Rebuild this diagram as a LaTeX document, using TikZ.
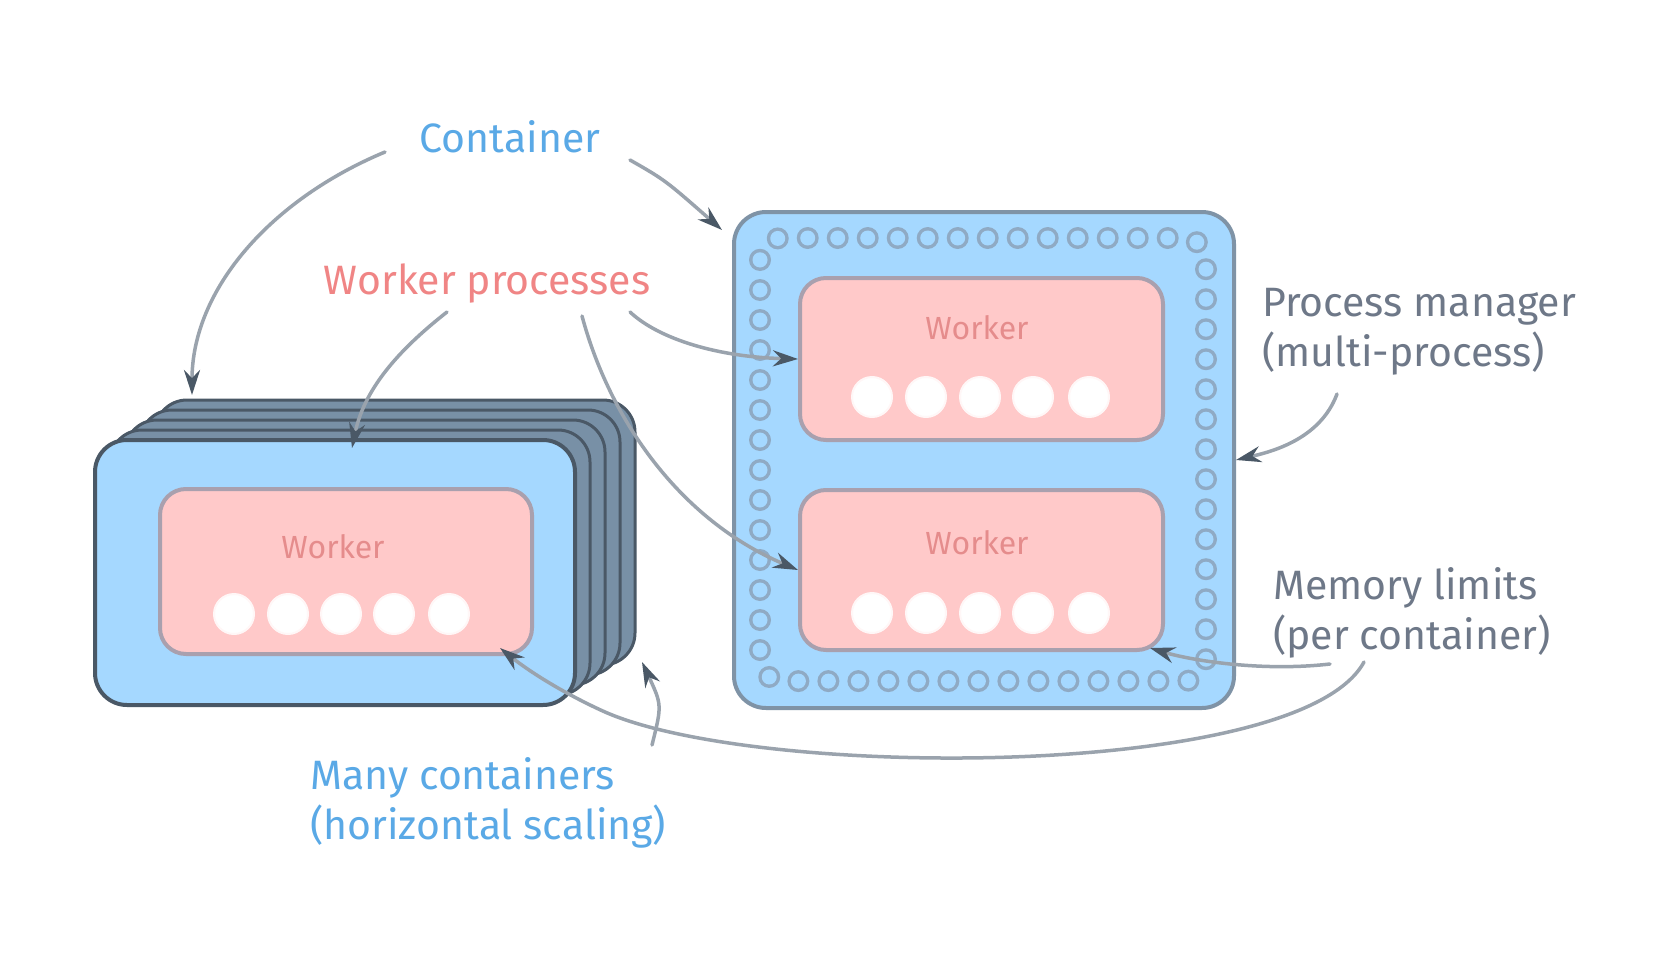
\documentclass[tikz,border=0pt]{standalone}
\usepackage{fontspec}
\setmainfont{Fira Sans}
\usetikzlibrary{arrows.meta}
\definecolor{boxblue}{HTML}{A5D8FF}
\definecolor{boxpink}{HTML}{FFC9C9}
\definecolor{inkdark}{HTML}{4A5866}
\definecolor{stackfill}{HTML}{7890A6}
\definecolor{ringdark}{HTML}{8FAAC4}
\definecolor{pinkline}{HTML}{A9A0AE}
\definecolor{blueline}{HTML}{7F93A6}
\definecolor{linegrey}{HTML}{9AA3AD}
\definecolor{txtblue}{HTML}{5AA9E6}
\definecolor{txtpink}{HTML}{F08585}
\definecolor{txtgrey}{HTML}{6E7888}
\definecolor{titlepink}{HTML}{E58C8C}
\tikzset{
  bluebox/.style={draw=blueline, line width=4pt, fill=boxblue, rounded corners=32pt, inner sep=0pt},
  stackbox/.style={draw=inkdark, line width=3pt, fill=stackfill, rounded corners=32pt, inner sep=0pt},
  pinkbox/.style={draw=pinkline, line width=4pt, fill=boxpink, rounded corners=26pt, inner sep=0pt, minimum width=363pt},
  whitedot/.style={circle, fill=white, draw=white!85!boxpink, line width=2pt, minimum size=40pt, inner sep=0pt},
  boxtitle/.style={font=\fontsize{32}{36}\selectfont, text=titlepink, inner sep=0pt},
  lbl/.style={font=\fontsize{41}{50}\selectfont, inner sep=0pt, align=left},
  conn/.style={draw=linegrey, line width=3.5pt, line cap=round,
    -{Stealth[length=25pt, width=16pt, color=inkdark, fill=inkdark]}},
}
\begin{document}
\begin{tikzpicture}[x=1pt,y=-1pt]
\useasboundingbox[fill=white] (0,0) rectangle (1668,966);

% ---------- left: stack of containers ----------
\foreach \k in {4,3,2,1}{
  \node[stackbox, minimum width=480pt, minimum height=265pt] (stack\k) at ({335+15*\k},{572.5-10*\k}) {};
}
\node[bluebox, draw=inkdark, minimum width=480pt, minimum height=265pt] (leftbox) at (335,572.5) {};
\node[pinkbox, minimum width=372pt, minimum height=165pt] (leftproc) at (346,571.5) {};
\node[boxtitle] (lefttitle) at (333,547) {Worker};
\foreach \x [count=\i] in {234,288,341,394,449}{
  \node[whitedot] (ld\i) at (\x,614) {};
}
\coordinate (leftcorner) at (500,648);

% ---------- right: one container with two processes ----------
\node[bluebox, minimum width=500pt, minimum height=496pt] (rightbox) at (984,460) {};
\draw[ringdark, line width=22pt, line cap=round, dash pattern=on 0pt off 30pt, rounded corners=22pt]
  (760,238) rectangle (1206,681.1);
\draw[boxblue, line width=15pt, line cap=round, dash pattern=on 0pt off 30pt, rounded corners=22pt]
  (760,238) rectangle (1206,681.1);
\node[pinkbox, minimum height=162pt] (upproc) at (981.5,359) {};
\node[pinkbox, minimum height=160pt] (lowproc) at (981.5,570) {};
\node[boxtitle] (uptitle) at (977,328) {Worker};
\node[boxtitle] (lowtitle) at (977,543) {Worker};
\foreach \x [count=\i] in {872,926,980,1033,1089}{
  \node[whitedot] (ud\i) at (\x,397) {};
  \node[whitedot] (wd\i) at (\x,613) {};
}
\coordinate (rightcorner) at (1150,648);

% ---------- labels ----------
\node[lbl, text=txtblue] (container) at (510,137) {Container};
\node[lbl, text=txtpink] (workers) at (487,283) {Worker processes};
\node[lbl, text=txtgrey, anchor=north west] (manager) at (1262,288) {Process manager\\(multi-process)};
\node[lbl, text=txtgrey, anchor=north west] (memory) at (1273,567) {Memory limits\\(per container)};
\node[lbl, text=txtblue, anchor=north west] (many) at (310,757) {Many containers\\(horizontal scaling)};

% ---------- connectors ----------
\coordinate (c1) at (385,152);
\draw[conn] (c1) .. controls (270,200) and (192,290) .. (192,395);
\coordinate (c2) at (630,160);
\draw[conn] (c2) .. controls (665,180) .. (722,230);
\coordinate (w1) at (447,312);
\draw[conn] (w1) .. controls (405,345) and (365,385) .. (352,448);
\coordinate (w2) at (630,312);
\draw[conn] (w2) .. controls (660,340) and (720,357) .. (upproc.west);
\coordinate (w3) at (582,316);
\draw[conn] (w3) .. controls (610,420) and (680,520) .. (lowproc.west);
\coordinate (m1) at (1337,394);
\draw[conn] (m1) .. controls (1320,440) and (1270,452) .. (rightbox.east);
\coordinate (mem1) at (1330,664);
\draw[conn] (mem1) .. controls (1260,672) and (1190,660) .. (rightcorner);
\coordinate (mem2) at (1364,662);
\draw[conn] (mem2) .. controls (1300,780) and (760,780) .. (605,712)
  .. controls (565,694) and (530,672) .. (leftcorner);
\coordinate (mc1) at (652,745);
\draw[conn] (mc1) .. controls (662,705) .. (642,662);
\end{tikzpicture}
\end{document}
